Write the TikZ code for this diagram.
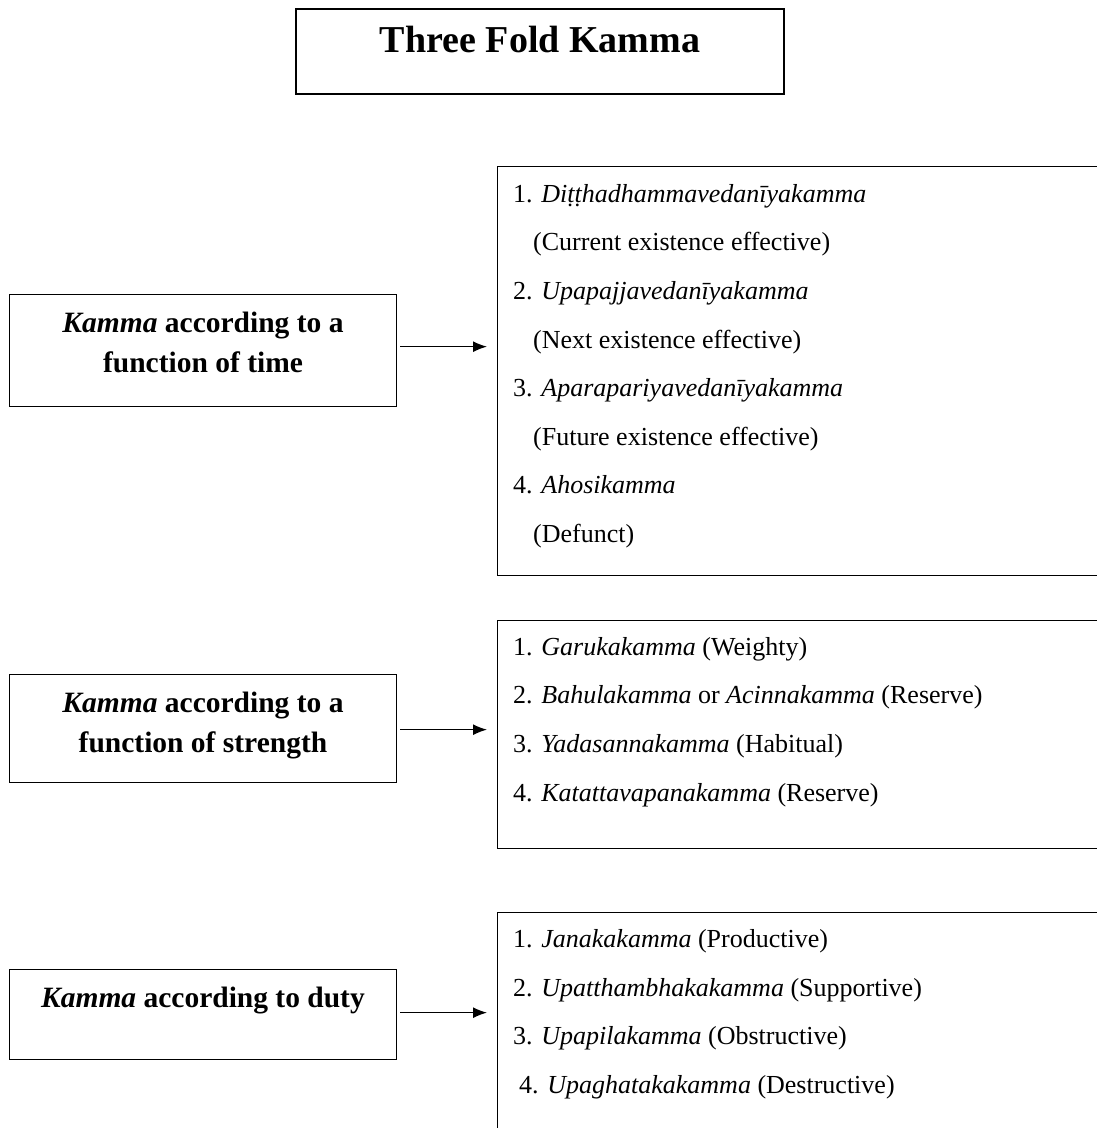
\documentclass[tikz,border=0pt]{standalone}
\usepackage{fontspec}
\setmainfont{Liberation Serif}
\usetikzlibrary{arrows.meta}
\begin{document}
\begin{tikzpicture}[x=1pt,y=-1pt,
  box/.style={draw, line width=1.3pt, inner sep=0pt},
  item/.style={anchor=base west, inner sep=0pt, font=\fontsize{26}{30}\selectfont},
  lbl/.style={anchor=base, inner sep=0pt, font=\fontsize{29.5}{34}\selectfont\bfseries},
  conn/.style={line width=1.3pt, -{Latex[length=14pt,width=11pt]}, shorten <=3pt, shorten >=10pt}]
\useasboundingbox (0,0) rectangle (1097,1128);
% title
\draw[line width=1.3pt] (296,9) rectangle (784,94);
\node[anchor=base, inner sep=0pt, font=\fontsize{38}{44}\selectfont\bfseries] (title) at (540,52) {Three Fold Kamma};
% left boxes
\node[box, minimum width=387pt, minimum height=112pt, anchor=north west] (L1) at (9,294) {};
\node[lbl] (L1a) at (203,332) {\textit{Kamma} according to a};
\node[lbl] (L1b) at (203,372) {function of time};
\node[box, minimum width=387pt, minimum height=108pt, anchor=north west] (L2) at (9,674) {};
\node[lbl] (L2a) at (203,712) {\textit{Kamma} according to a};
\node[lbl] (L2b) at (203,752) {function of strength};
\node[box, minimum width=387pt, minimum height=90pt, anchor=north west] (L3) at (9,969) {};
\node[lbl] (L3a) at (203,1007) {\textit{Kamma} according to duty};
% right boxes
\node[box, minimum width=620pt, minimum height=409pt, anchor=north west] (R1) at (497,166) {};
\node[box, minimum width=620pt, minimum height=228pt, anchor=north west] (R2) at (497,620) {};
\node[box, minimum width=620pt, minimum height=260pt, anchor=north west] (R3) at (497,912) {};
% items box 1
\node[item] (a1) at (513,202) {1. \textit{Diṭṭhadhammavedanīyakamma}};
\node[item] (a1b) at (533,250) {(Current existence effective)};
\node[item] (a2) at (513,299) {2. \textit{Upapajjavedanīyakamma}};
\node[item] (a2b) at (533,348) {(Next existence effective)};
\node[item] (a3) at (513,396) {3. \textit{Aparapariyavedanīyakamma}};
\node[item] (a3b) at (533,445) {(Future existence effective)};
\node[item] (a4) at (513,493) {4. \textit{Ahosikamma}};
\node[item] (a4b) at (533,542) {(Defunct)};
% items box 2
\node[item] (b1) at (513,655) {1. \textit{Garukakamma} (Weighty)};
\node[item] (b2) at (513,703) {2. \textit{Bahulakamma} or \textit{Acinnakamma} (Reserve)};
\node[item] (b3) at (513,752) {3. \textit{Yadasannakamma} (Habitual)};
\node[item] (b4) at (513,801) {4. \textit{Katattavapanakamma} (Reserve)};
% items box 3
\node[item] (c1) at (513,947) {1. \textit{Janakakamma} (Productive)};
\node[item] (c2) at (513,996) {2. \textit{Upatthambhakakamma} (Supportive)};
\node[item] (c3) at (513,1044) {3. \textit{Upapilakamma} (Obstructive)};
\node[item] (c4) at (519,1093) {4. \textit{Upaghatakakamma} (Destructive)};
% connectors
\draw[conn] ([yshift=4pt]L1.east) -- ([yshift=4pt]L1.east -| R1.west);
\draw[conn] ([yshift=-1pt]L2.east) -- ([yshift=-1pt]L2.east -| R2.west);
\draw[conn] ([yshift=2pt]L3.east) -- ([yshift=2pt]L3.east -| R3.west);
\end{tikzpicture}
\end{document}
